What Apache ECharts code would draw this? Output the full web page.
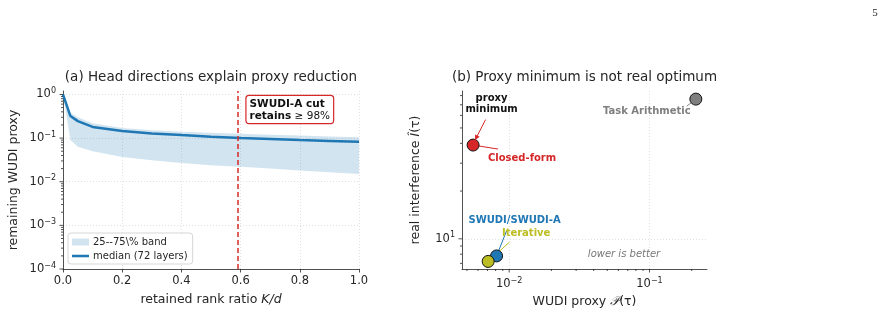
<!DOCTYPE html>
<html>
<head>
<meta charset="utf-8">
<script src="https://cdn.jsdelivr.net/npm/echarts@6/dist/echarts.min.js"></script>
<style>
  html, body { margin: 0; padding: 0; background: #fff; }
  #chart { width: 886px; height: 318px; }
</style>
</head>
<body>
<div id="chart"></div>
<script>
// (a) proxy left after keeping the top-K directions
const rankRatio   = [0, 0.025, 0.05, 0.1, 0.2, 0.3, 0.4, 0.5, 0.6, 0.7, 0.8, 0.9, 1.0];
const medianProxy = [1.0, 0.32, 0.245, 0.18, 0.145, 0.128, 0.117, 0.108, 0.1, 0.095, 0.09, 0.086, 0.082];
const bandUpper   = [1.0, 0.38, 0.30, 0.22, 0.17, 0.152, 0.14, 0.132, 0.125, 0.119, 0.114, 0.109, 0.105];
const bandLower   = [1.0, 0.09, 0.063, 0.05, 0.037, 0.031, 0.027, 0.024, 0.022, 0.020, 0.018, 0.0165, 0.015];
const cutRatio = 0.593;

// (b) proxy vs real interference per method
const methods          = ['Task Arithmetic', 'Closed-form', 'SWUDI/SWUDI-A', 'Iterative'];
const proxyValue       = [0.214, 0.00553, 0.00813, 0.00708];
const realInterference = [76, 39, 7.8, 7.2];
const methodColors = ['#7f7f7f', '#d62728', '#1f77b4', '#bcbd22'];

const FONT = 'DejaVu Sans';
const INK = '#262626';

const chart = echarts.init(document.getElementById('chart'));

// axis extents
const aYMin = 1e-4, aYMax = 1.2;
const bXMin = 0.00461, bXMax = 0.257;
const bYMin = 6.45, bYMax = 85.5;
const gridA = { left: 63, top: 91, width: 296, height: 178 };
const gridB = { left: 462, top: 91, width: 245, height: 178 };

function powLabel(v) {
  const l = Math.log10(v);
  const e = Math.round(l);
  if (Math.abs(l - e) > 1e-6) return '';
  return '{b|10}{s|' + (e < 0 ? '\u2212' + (-e) : e) + '}';
}
const powRich = {
  b: { fontSize: 11.5, color: INK, fontFamily: FONT },
  s: { fontSize: 8, color: INK, fontFamily: FONT, padding: [0, 0, 7, 0] }
};

function logTicks(lo, hi, minor) {
  const out = [];
  for (let e = Math.floor(Math.log10(lo)); e <= Math.ceil(Math.log10(hi)); e++) {
    for (let k = minor ? 2 : 1; k <= (minor ? 9 : 1); k++) {
      const v = k * Math.pow(10, e);
      if (v >= lo * 0.999 && v <= hi * 1.001) out.push(v);
    }
  }
  return out;
}

const gridLine = { show: true, lineStyle: { color: '#d8d8d8', type: [1, 2], width: 0.8 } };
const axisLine = { show: true, lineStyle: { color: INK, width: 0.8 } };
const nameStyle = { fontSize: 12.5, color: INK, fontFamily: FONT };
const nameRich = { rich: { i: Object.assign({ fontStyle: 'italic' }, nameStyle) } };

const option = {
  animation: false,
  textStyle: { fontFamily: FONT },
  grid: [gridA, gridB],
  legend: {
    left: 68, top: 233, orient: 'vertical',
    padding: [4, 5, 3, 4], itemGap: 4, itemWidth: 17, itemHeight: 7,
    backgroundColor: 'rgba(255,255,255,0.85)', borderColor: '#cccccc', borderWidth: 0.8, borderRadius: 3,
    textStyle: { fontSize: 10, color: INK, fontFamily: FONT, padding: [0, 0, 0, -1] },
    data: [
      { name: '25--75\\% band', icon: 'rect' },
      { name: 'median (72 layers)', icon: 'path://M0,0H40V6H0Z' }
    ]
  },
  xAxis: [
    {
      type: 'value', gridIndex: 0, min: 0, max: 1, interval: 0.2,
      axisLine: axisLine,
      axisTick: { show: true, length: 3.5, lineStyle: { color: INK, width: 0.8 } },
      axisLabel: { formatter: v => v.toFixed(1), fontSize: 11.5, color: INK, margin: 6 },
      splitLine: gridLine,
      name: 'retained rank ratio {i|K/d}', nameLocation: 'middle', nameGap: 24,
      nameTextStyle: Object.assign({}, nameRich, nameStyle)
    },
    {
      type: 'log', logBase: 10, gridIndex: 1, min: bXMin, max: bXMax,
      axisLine: axisLine, axisTick: { show: false },
      axisLabel: { formatter: powLabel, rich: powRich, margin: 8, showMinLabel: false, showMaxLabel: false },
      splitLine: Object.assign({ showMinLine: false, showMaxLine: false }, gridLine),
      name: 'WUDI proxy {i|\uD835\uDCAB}(\u03C4)', nameLocation: 'middle', nameGap: 24,
      nameTextStyle: Object.assign({}, nameRich, nameStyle)
    }
  ],
  yAxis: [
    {
      type: 'log', logBase: 10, gridIndex: 0, min: aYMin, max: aYMax,
      axisLine: axisLine, axisTick: { show: false },
      axisLabel: { formatter: powLabel, rich: powRich, margin: 7, showMaxLabel: false },
      splitLine: Object.assign({ showMaxLine: false }, gridLine),
      name: 'remaining WUDI proxy', nameLocation: 'middle', nameGap: 43,
      nameTextStyle: nameStyle
    },
    {
      type: 'log', logBase: 10, gridIndex: 1, min: bYMin, max: bYMax,
      axisLine: axisLine, axisTick: { show: false },
      axisLabel: { formatter: powLabel, rich: powRich, margin: 7, showMinLabel: false, showMaxLabel: false },
      splitLine: Object.assign({ showMinLine: false, showMaxLine: false }, gridLine),
      name: 'real interference {i|\u00CE}(\u03C4)', nameLocation: 'middle', nameGap: 40,
      nameTextStyle: Object.assign({}, nameRich, nameStyle)
    }
  ],
  series: [
    {
      type: 'custom', name: '25--75\\% band', xAxisIndex: 0, yAxisIndex: 0, z: 1,
      itemStyle: { color: 'rgba(31,119,180,0.2)' },
      data: rankRatio.map((x, i) => [x, bandLower[i], bandUpper[i]]),
      encode: { x: 0, y: [1, 2] },
      renderItem: (params, api) => {
        if (params.dataIndex !== 0) return null;
        const upper = rankRatio.map((x, i) => api.coord([x, bandUpper[i]]));
        const lower = rankRatio.map((x, i) => api.coord([x, bandLower[i]])).reverse();
        return { type: 'polygon', shape: { points: upper.concat(lower) }, style: { fill: 'rgba(31,119,180,0.2)' } };
      }
    },
    {
      type: 'line', name: 'median (72 layers)', xAxisIndex: 0, yAxisIndex: 0, z: 2,
      showSymbol: false, symbol: 'none',
      lineStyle: { color: '#1f77b4', width: 2.5 }, itemStyle: { color: '#1f77b4' },
      data: rankRatio.map((x, i) => [x, medianProxy[i]]),
      markLine: {
        silent: true, symbol: 'none', label: { show: false },
        lineStyle: { color: '#d62728', type: [5, 3], width: 1.5 },
        data: [{ xAxis: cutRatio }]
      }
    },
    {
      type: 'scatter', name: 'methods', xAxisIndex: 1, yAxisIndex: 1, z: 5,
      symbolSize: 12,
      itemStyle: { color: p => methodColors[p.dataIndex], borderColor: '#111', borderWidth: 1, opacity: 1 },
      data: methods.map((m, i) => ({ name: m, value: [proxyValue[i], realInterference[i]] }))
    }
  ]
};
chart.setOption(option);

// annotations placed relative to the plotted marks
const toPx = (g, v) => chart.convertToPixel({ gridIndex: g }, v);
const gfx = [];
function text(x, y, str, extra) {
  gfx.push({
    type: 'text', x: x, y: y, z: 10,
    style: Object.assign({ text: str, fontFamily: FONT, fontSize: 10, align: 'center', verticalAlign: 'middle', fill: INK }, extra)
  });
}
function seg(p, q, color, z, w) {
  gfx.push({ type: 'line', z: z || 1, shape: { x1: p[0], y1: p[1], x2: q[0], y2: q[1] }, style: { stroke: color, lineWidth: w || 1 } });
}

// log-axis tick marks (major and minor), the built-in ones would also mark the extents
function yTicks(g, grid, values, len) {
  values.forEach(v => {
    const y = chart.convertToPixel({ yAxisIndex: g }, v);
    seg([grid.left - len, y], [grid.left, y], INK, 10, 0.8);
  });
}
function xTicks(g, grid, values, len) {
  const y0 = grid.top + grid.height;
  values.forEach(v => {
    const x = chart.convertToPixel({ xAxisIndex: g }, v);
    seg([x, y0], [x, y0 + len], INK, 10, 0.8);
  });
}
yTicks(0, gridA, logTicks(aYMin, aYMax, false), 3.5);
yTicks(0, gridA, logTicks(aYMin, aYMax, true), 2);
yTicks(1, gridB, logTicks(bYMin, bYMax, false), 3.5);
yTicks(1, gridB, logTicks(bYMin, bYMax, true), 2);
xTicks(1, gridB, logTicks(bXMin, bXMax, false), 3.5);
xTicks(1, gridB, logTicks(bXMin, bXMax, true), 2);

// titles and page number
text(211, 77, '(a) Head directions explain proxy reduction', { fontSize: 13.5 });
text(584.5, 77, '(b) Proxy minimum is not real optimum', { fontSize: 13.5 });
text(875, 13, '5', { fontSize: 11, fontFamily: 'Liberation Serif' });

// cut-off box
const cutPx = toPx(0, [cutRatio, 1]);
gfx.push({
  type: 'text', x: cutPx[0] + 8, y: 96, z: 10,
  style: {
    text: '{b|SWUDI-A cut}\n{b|retains} {n|\u2265 98%}',
    align: 'left', verticalAlign: 'top',
    backgroundColor: '#fff', borderColor: '#d62728', borderWidth: 1.2, borderRadius: 2.5,
    padding: [2, 3, 1, 3],
    rich: {
      b: { fontFamily: FONT, fontSize: 10.5, fontWeight: 'bold', fill: '#111', lineHeight: 12 },
      n: { fontFamily: FONT, fontSize: 10.5, fill: '#111', lineHeight: 12 }
    }
  }
});

// method labels: [text dx, dy, leader end dx, dy]
const labelOffsets = [[-49, 12, -9, 7], [49, 13, 25, 4], [18, -36, 10, -25], [38, -28, 21, -19]];
methods.forEach((m, i) => {
  const p = toPx(1, [proxyValue[i], realInterference[i]]);
  const o = labelOffsets[i];
  seg(p, [p[0] + o[2], p[1] + o[3]], methodColors[i], 1);
  text(p[0] + o[0], p[1] + o[1], m, { fontWeight: 'bold', fill: methodColors[i] });
});

// "proxy minimum" arrow onto the closed-form point
const cf = toPx(1, [proxyValue[1], realInterference[1]]);
text(cf[0] + 18.5, cf[1] - 41, 'proxy\nminimum', { fontWeight: 'bold', fill: '#111', lineHeight: 11 });
const a0 = [cf[0] + 12.5, cf[1] - 25.5], a1 = [cf[0] + 2, cf[1] - 5];
seg(a0, a1, '#d62728', 10);
const ang = Math.atan2(a1[1] - a0[1], a1[0] - a0[0]);
const hl = 5, hw = 2.6;
gfx.push({
  type: 'polygon', z: 10,
  shape: { points: [
    a1,
    [a1[0] - hl * Math.cos(ang) + hw * Math.sin(ang), a1[1] - hl * Math.sin(ang) - hw * Math.cos(ang)],
    [a1[0] - hl * Math.cos(ang) - hw * Math.sin(ang), a1[1] - hl * Math.sin(ang) + hw * Math.cos(ang)]
  ] },
  style: { fill: '#d62728' }
});

text(624, 254, 'lower is better', { fontStyle: 'italic', fill: '#777' });

chart.setOption({ graphic: gfx });
</script>
</body>
</html>
